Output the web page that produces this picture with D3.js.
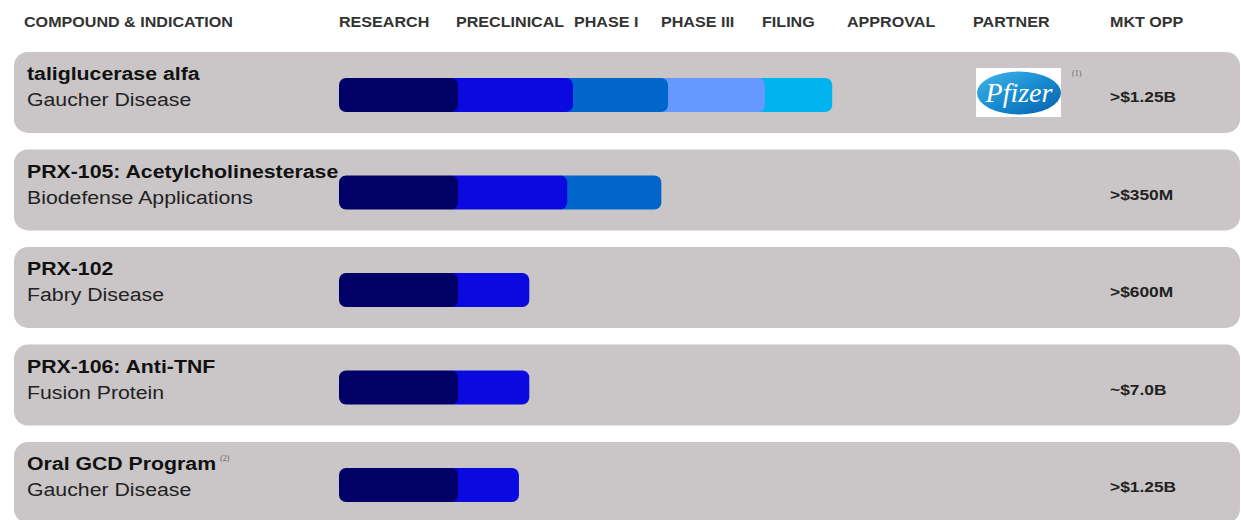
<!DOCTYPE html>
<html><head><meta charset="utf-8">
<script src="https://cdnjs.cloudflare.com/ajax/libs/d3/7.8.5/d3.min.js"></script>
<style>html,body{margin:0;padding:0;background:#fff;}svg{display:block;}</style>
</head><body>
<script>
// ---- data ----
const stages = ["RESEARCH","PRECLINICAL","PHASE I","PHASE III","FILING","APPROVAL"];
const compounds = ["taliglucerase alfa","PRX-105: Acetylcholinesterase","PRX-102","PRX-106: Anti-TNF","Oral GCD Program"];
const indications = ["Gaucher Disease","Biodefense Applications","Fabry Disease","Fusion Protein","Gaucher Disease"];
// progress: end of each completed segment, in stage units (0 = start of RESEARCH)
const progress = [
  [1, 2, 3, 4, 4.83],
  [1, 1.95, 2.93],
  [1, 1.62],
  [1, 1.62],
  [1, 1.53]
];
const partners = ["Pfizer","","","",""];
const partnerNotes = ["(1)","","","",""];
const compoundNotes = ["","","","","(2)"];
const marketOpp = [">$1.25B",">$350M",">$600M","~$7.0B",">$1.25B"];
const extraHeaders = ["COMPOUND & INDICATION","PARTNER","MKT OPP"];

// ---- layout / style ----
const W = 1241, H = 520;
const segColors = ["#000066","#0a0ae0","#0066cc","#6699ff","#00b4ef"];
const font = "'Liberation Sans', Arial, Helvetica, sans-serif";
const SX = 1.12;

const svg = d3.select("body").append("svg").attr("width", W).attr("height", H);

const x = d3.scaleLinear().domain([0,1,2,3,4,5,6]).range([339,458,573,668,765,846,940]);
const y = d3.scaleBand().domain(compounds).range([52, 523]).paddingInner(0.17).paddingOuter(0);

function stretchedText(sel, px, py, sx) {
  return sel.attr("transform", `translate(${px},${py}) scale(${sx},1)`);
}

// headers
const hdr = svg.append("g").attr("font-family", font).attr("font-weight", "bold")
  .attr("font-size", 14).attr("fill", "#333");
stretchedText(hdr.append("text").text(extraHeaders[0]), 24, 27, 1.15);
const hdrX = [339, 456, 574, 661, 762, 847];
stages.forEach((s, i) => {
  stretchedText(hdr.append("text").text(s), hdrX[i], 27, 1.15);
});
stretchedText(hdr.append("text").text(extraHeaders[1]), 973, 27, 1.15);
stretchedText(hdr.append("text").text(extraHeaders[2]), 1110, 27, 1.15);

// rows
const rows = svg.selectAll("g.row").data(compounds).join("g").attr("class","row")
  .attr("transform", d => `translate(0,${y(d)})`);

rows.append("rect").attr("x", 14).attr("y", 0).attr("width", 1226).attr("height", y.bandwidth())
  .attr("rx", 14).attr("fill", "#cac6c7");

// bars
const barOff = 26, barH = 34;
rows.each(function(d, ri) {
  const g = d3.select(this);
  const segs = progress[ri].map((e, i) => ({
    i, x0: i === 0 ? x(0) : x(progress[ri][i-1]) - 12, x1: x(e)
  }));
  g.selectAll("rect.seg").data(segs.slice().reverse()).join("rect").attr("class","seg")
    .attr("x", s => s.x0).attr("y", barOff).attr("width", s => s.x1 - s.x0).attr("height", barH)
    .attr("rx", 7).attr("fill", s => segColors[s.i]);
});

// compound text
rows.each(function(d, ri) {
  const g = d3.select(this);
  const t1 = g.append("text").attr("font-family", font).attr("font-weight", "bold")
    .attr("font-size", 19).attr("fill", "#111").text(compounds[ri]);
  stretchedText(t1, 27, 28, SX);
  const t2 = g.append("text").attr("font-family", font)
    .attr("font-size", 19).attr("fill", "#222").text(indications[ri]);
  stretchedText(t2, 27, 54, SX);
  if (compoundNotes[ri]) {
    const w = t1.node().getComputedTextLength() * SX;
    g.append("text").attr("x", 27 + w + 4).attr("y", 19).attr("font-family", "'Liberation Serif', serif")
      .attr("font-size", 8).attr("fill", "#666").text(compoundNotes[ri]);
  }
  const m = g.append("text").attr("font-family", font).attr("font-weight", "bold")
    .attr("font-size", 15.5).attr("fill", "#222").text(marketOpp[ri]);
  stretchedText(m, 1110, 50, SX);

  if (partners[ri] === "Pfizer") {
    const lg = g.append("g").attr("transform", "translate(976,16)");
    lg.append("rect").attr("width", 85).attr("height", 49).attr("fill", "#fff");
    const grad = svg.append("defs").append("linearGradient").attr("id","pfz")
      .attr("x1","0").attr("y1","0").attr("x2","1").attr("y2","1");
    grad.append("stop").attr("offset","0").attr("stop-color","#43b6ea");
    grad.append("stop").attr("offset","0.55").attr("stop-color","#1488cf");
    grad.append("stop").attr("offset","1").attr("stop-color","#0a5fa8");
    lg.append("ellipse").attr("cx", 43).attr("cy", 25).attr("rx", 42).attr("ry", 21.5)
      .attr("fill", "url(#pfz)");
    lg.append("text").attr("x", 43).attr("y", 34).attr("text-anchor","middle")
      .attr("font-family", "'Liberation Serif', serif").attr("font-style","italic").attr("font-size", 28)
      .attr("fill","#fff").text(partners[ri]);
    g.append("text").attr("x", 1072).attr("y", 24).attr("font-family", "'Liberation Serif', serif")
      .attr("font-size", 8).attr("fill", "#666").text(partnerNotes[ri]);
  }
});
</script>
</body></html>
